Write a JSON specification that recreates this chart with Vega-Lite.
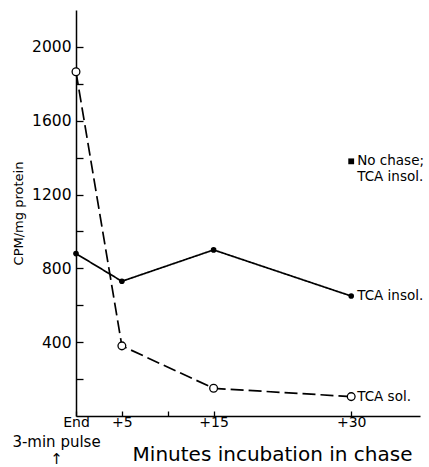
{
  "$schema": "https://vega.github.io/schema/vega-lite/v6.json",
  "width": 344,
  "height": 406,
  "autosize": {"type": "none"},
  "padding": {"left": 76, "top": 10, "right": 9, "bottom": 51},
  "background": "white",
  "config": {
    "view": {"stroke": null},
    "font": "DejaVu Sans",
    "axis": {
      "domainColor": "black",
      "domainWidth": 1.5,
      "tickColor": "black",
      "tickWidth": 1.3,
      "labelColor": "black",
      "titleColor": "black",
      "labelFont": "DejaVu Sans",
      "titleFont": "DejaVu Sans",
      "titleFontWeight": "normal",
      "grid": false
    }
  },
  "datasets": {
    "pts": [
      {"min": 0, "cpm": 880, "series": "TCA insol."},
      {"min": 5, "cpm": 730, "series": "TCA insol."},
      {"min": 15, "cpm": 900, "series": "TCA insol."},
      {"min": 30, "cpm": 650, "series": "TCA insol."},
      {"min": 0, "cpm": 1865, "series": "TCA sol."},
      {"min": 5, "cpm": 380, "series": "TCA sol."},
      {"min": 15, "cpm": 150, "series": "TCA sol."},
      {"min": 30, "cpm": 105, "series": "TCA sol."},
      {"min": 30, "cpm": 1380, "series": "No chase"}
    ],
    "notes": [
      {"min": 30, "cpm": 650, "text": "TCA insol."},
      {"min": 30, "cpm": 105, "text": "TCA sol."},
      {"min": 30, "cpm": 1380, "text": "No chase;\nTCA insol."}
    ]
  },
  "resolve": {"axis": {"x": "independent", "y": "independent"}},
  "layer": [
    {
      "data": {"name": "pts"},
      "transform": [{"filter": "datum.series != 'No chase'"}],
      "mark": {"type": "line", "color": "black", "strokeWidth": 1.7},
      "encoding": {
        "x": {
          "field": "min", "type": "quantitative",
          "scale": {"domain": [0, 37.5], "nice": false, "zero": false},
          "axis": {
            "orient": "bottom",
            "values": [0, 5, 10, 15, 30],
            "labelExpr": "datum.value == 0 ? 'End' : datum.value == 10 ? '' : '+' + datum.value",
            "tickSize": -5,
            "labelPadding": 4.5,
            "labelFontSize": 14,
            "labelFlush": false,
            "title": "Minutes incubation in chase",
            "titleFontSize": 20,
            "titleX": 196,
            "titleY": 44,
            "titleAlign": "center",
            "titleBaseline": "alphabetic"
          }
        },
        "y": {
          "field": "cpm", "type": "quantitative",
          "scale": {"domain": [0, 2200], "nice": false},
          "axis": {
            "orient": "left",
            "values": [200, 400, 600, 800, 1000, 1200, 1400, 1600, 1800, 2000],
            "format": "d",
            "labelExpr": "datum.value % 400 == 0 ? datum.label : ''",
            "tickSize": -7,
            "labelPadding": 12,
            "labelFontSize": 15.5,
            "title": "CPM/mg protein",
            "titleFontSize": 13,
            "titleX": -51,
            "titleBaseline": "bottom"
          }
        },
        "strokeDash": {
          "field": "series", "type": "nominal",
          "scale": {"domain": ["TCA insol.", "TCA sol."], "range": [[1, 0], [13, 5]]},
          "legend": null
        }
      }
    },
    {
      "data": {"name": "pts"},
      "transform": [{"filter": "datum.series == 'TCA insol.'"}],
      "mark": {"type": "point", "shape": "circle", "filled": true, "color": "black", "size": 32, "opacity": 1},
      "encoding": {
        "x": {"field": "min", "type": "quantitative", "axis": null},
        "y": {"field": "cpm", "type": "quantitative", "axis": null}
      }
    },
    {
      "data": {"name": "pts"},
      "transform": [{"filter": "datum.series == 'TCA sol.'"}],
      "mark": {"type": "point", "shape": "circle", "filled": false, "fill": "white", "fillOpacity": 1, "stroke": "black", "strokeWidth": 1.3, "size": 60, "opacity": 1},
      "encoding": {
        "x": {"field": "min", "type": "quantitative", "axis": null},
        "y": {"field": "cpm", "type": "quantitative", "axis": null}
      }
    },
    {
      "data": {"name": "pts"},
      "transform": [{"filter": "datum.series == 'No chase'"}],
      "mark": {"type": "point", "shape": "square", "filled": true, "color": "black", "size": 34, "opacity": 1},
      "encoding": {
        "x": {"field": "min", "type": "quantitative", "axis": null},
        "y": {"field": "cpm", "type": "quantitative", "axis": null}
      }
    },
    {
      "data": {"name": "notes"},
      "mark": {"type": "text", "align": "left", "baseline": "middle", "dx": 6, "fontSize": 13.5, "lineBreak": "\n", "lineHeight": 16, "color": "black", "font": "DejaVu Sans"},
      "encoding": {
        "x": {
          "field": "min", "type": "quantitative",
          "axis": {
            "orient": "bottom",
            "values": [0],
            "labelExpr": "['3-min pulse', '↑']",
            "domain": false,
            "ticks": false,
            "labelOffset": -20,
            "labelPadding": 18,
            "labelFontSize": 15,
            "labelLineHeight": 17,
            "labelFlush": false,
            "labelOverlap": false,
            "title": null
          }
        },
        "y": {"field": "cpm", "type": "quantitative", "axis": null},
        "text": {"field": "text", "type": "nominal"}
      }
    }
  ]
}
